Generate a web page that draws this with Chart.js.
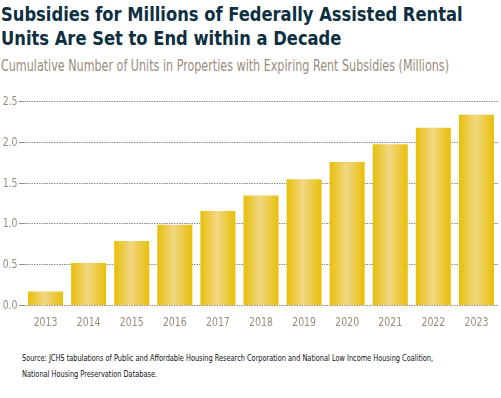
<!DOCTYPE html>
<html>
<head>
<meta charset="utf-8">
<script src="https://cdn.jsdelivr.net/npm/chart.js@4"></script>
<style>
  html, body { margin: 0; padding: 0; background: #fff; }
  body { width: 501px; height: 398px; position: relative; overflow: hidden; }
  .t { position: absolute; white-space: nowrap; font-family: "DejaVu Sans", sans-serif; font-stretch: condensed; transform-origin: 0 0; }
  .title { left: 1px; top: 3px; font-weight: bold; font-size: 19.5px; line-height: 23.5px; color: #0e2f3f; }
  .sub { left: 1px; top: 57px; font-size: 15.5px; color: #9b8b7a; }
  .src { left: 22px; top: 350px; font-size: 9.5px; line-height: 16px; color: #111; }
  #wrap { position: absolute; left: 0; top: 92px; width: 501px; height: 253px; }
</style>
</head>
<body>
<div class="t title" data-w="462">Subsidies for Millions of Federally Assisted Rental<br>Units Are Set to End within a Decade</div>
<div class="t sub" data-w="448">Cumulative Number of Units in Properties with Expiring Rent Subsidies (Millions)</div>
<div id="wrap"><canvas id="c"></canvas></div>
<div class="t src" data-w="411">Source: JCHS tabulations of Public and Affordable Housing Research Corporation and National Low Income Housing Coalition,<br>National Housing Preservation Database.</div>
<script>
const years = ['2013', '2014', '2015', '2016', '2017', '2018', '2019', '2020', '2021', '2022', '2023'];
const units = [0.17, 0.52, 0.79, 0.99, 1.16, 1.35, 1.55, 1.76, 1.98, 2.18, 2.34];
const yTicks = [0, 0.5, 1.0, 1.5, 2.0, 2.5];

const AXIS = '#9b8b7a';
const CAT_PCT = 0.812;

// squeeze the condensed text blocks to the widths of the original
document.querySelectorAll('.t[data-w]').forEach(el => {
  const k = +el.dataset.w / el.scrollWidth;
  el.style.transform = `scaleX(${k})`;
});

function barFill(ctx) {
  const chart = ctx.chart;
  const xs = chart.scales.x;
  if (!chart.chartArea || !xs || !xs.width) return '#e8c00a';
  const x = xs.getPixelForValue(ctx.dataIndex);
  const w = xs.width / years.length * CAT_PCT;
  const g = chart.ctx.createLinearGradient(x - w / 2, 0, x + w / 2, 0);
  g.addColorStop(0, '#e8bf08');
  g.addColorStop(0.47, '#f1d784');
  g.addColorStop(1, '#e8bf08');
  return g;
}

// tick labels in a narrow face, drawn at the scales' own positions
const narrowLabels = {
  id: 'narrowLabels',
  afterDraw(chart) {
    const { ctx, scales: { x, y } } = chart;
    ctx.save();
    ctx.fillStyle = AXIS;
    ctx.font = '13px "DejaVu Sans"';
    ctx.fontStretch = 'condensed';
    ctx.textBaseline = 'middle';
    const sx = 0.8;
    ctx.scale(sx, 1);
    ctx.textAlign = 'right';
    yTicks.forEach(v => ctx.fillText(v.toFixed(1), 17.5 / sx, y.getPixelForValue(v)));
    ctx.textAlign = 'center';
    years.forEach((lab, i) => ctx.fillText(lab, x.getPixelForValue(i) / sx, y.bottom + 17.5));
    ctx.restore();
  }
};

const chart = new Chart(document.getElementById('c'), {
  type: 'bar',
  data: {
    labels: years,
    datasets: [{ data: units, backgroundColor: barFill, borderWidth: 0, categoryPercentage: CAT_PCT, barPercentage: 1 }]
  },
  options: {
    responsive: true, maintainAspectRatio: false, animation: false,
    layout: { padding: { left: 0, right: 3, top: 4, bottom: 0 } },
    plugins: { legend: { display: false }, tooltip: { enabled: false } },
    scales: {
      x: {
        offset: true,
        grid: { display: false },
        border: { display: false },
        ticks: { color: 'rgba(0,0,0,0)', font: { size: 13 }, padding: 8 }
      },
      y: {
        min: 0, max: 2.5,
        afterBuildTicks: s => { s.ticks = yTicks.map(v => ({ value: v })); },
        afterFit: s => { s.width = 24; },
        grid: { color: AXIS, lineWidth: 1, tickLength: 5, tickColor: AXIS, drawTicks: true },
        border: { display: false, dash: [1.5, 1] },
        ticks: { color: 'rgba(0,0,0,0)', font: { size: 13 }, padding: 2 }
      }
    }
  },
  plugins: [narrowLabels]
});
chart.update();
</script>
</body>
</html>
